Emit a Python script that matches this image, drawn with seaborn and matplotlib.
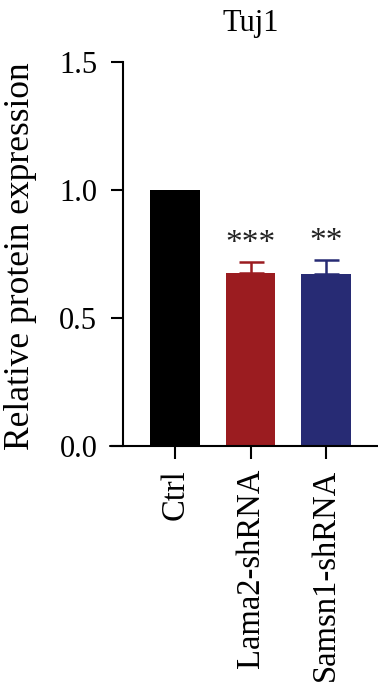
import matplotlib
matplotlib.use("Agg")
import matplotlib.pyplot as plt
import seaborn as sns
import pandas as pd
from matplotlib.lines import Line2D

categories = ["Ctrl", "Lama2-shRNA", "Samsn1-shRNA"]
values = [1.0, 0.676, 0.672]
errors = [0.0, 0.043, 0.055]
stars = ["", "***", "**"]
colors = ["#000000", "#9B1C20", "#272B74"]
yticks = [0.0, 0.5, 1.0, 1.5]

sns.set_theme(style="ticks")
plt.rcParams['font.family'] = ['Liberation Serif', 'DejaVu Serif']
plt.rcParams['text.color'] = 'black'

W, H = 378, 684
fig = plt.figure(figsize=(W / 100, H / 100), dpi=100)
ax = fig.add_axes([123 / W, (H - 446) / H, (W - 123) / W, (446 - 62) / H])

df = pd.DataFrame({"cat": categories, "val": values})
sns.barplot(data=df, x="cat", y="val", hue="cat", palette=colors, legend=False,
            width=0.66, errorbar=None, ax=ax, linewidth=0, saturation=1)

for i, (v, e, s) in enumerate(zip(values, errors, stars)):
    if e > 0:
        ax.errorbar(i, v, yerr=[[0], [e]], fmt="none", ecolor=colors[i],
                    elinewidth=1.8, capsize=9, capthick=1.8)
    if s:
        ax.text(i, v + e + 0.012, s, ha="center", va="bottom", fontsize=24,
                color="#222222")

ax.set_xlim(-0.69, 2.69)
ax.set_ylim(0, 1.5)
ax.set_yticks(yticks)
ax.set_yticklabels([f"{t:.1f}" for t in yticks])
ax.tick_params(axis="both", width=1.5, length=9, color="black",
               labelcolor="black")
ax.tick_params(axis="y", labelsize=22, pad=9.5)
ax.tick_params(axis="x", labelsize=23.5, rotation=90, pad=7.5)
ax.set_xlabel("")
ax.set_ylabel("Relative protein expression", fontsize=25.5, color="black")
ax.yaxis.set_label_coords(-0.337, 0.495)
ax.set_title("Tuj1", fontsize=22, pad=22, color="black")

for sp in ["top", "right"]:
    ax.spines[sp].set_visible(False)
ax.spines["left"].set_linewidth(1.5)
ax.spines["left"].set_color("black")
ax.spines["bottom"].set_visible(False)
ax.add_line(Line2D([-13 / 255, 1], [0, 0], transform=ax.transAxes,
                   color="black", linewidth=1.5, clip_on=False))

fig.savefig("out.png", dpi=100)
